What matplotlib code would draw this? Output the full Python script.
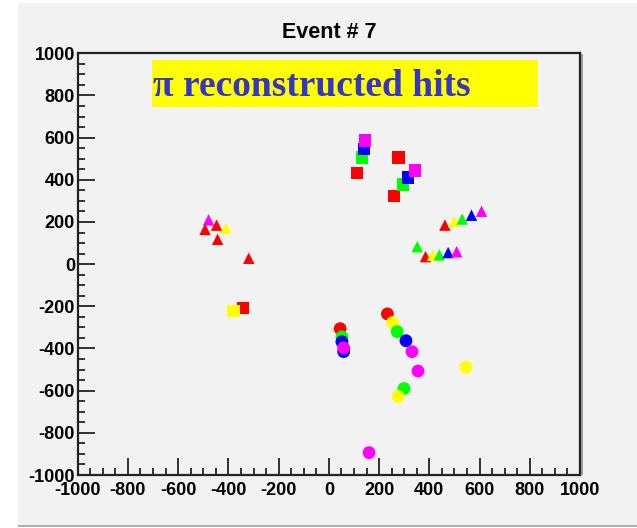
import matplotlib
matplotlib.use("Agg")
import matplotlib.pyplot as plt
from matplotlib.patches import Rectangle
from matplotlib.ticker import MultipleLocator

plt.rcParams["axes.unicode_minus"] = False

# ---- data ----
title = "Event # 7"
label = "\u03c0 reconstructed hits"

sq_x = [113, 132, 140, 145, 278, 259, 296, 315, 342, -341, -379]
sq_y = [431, 505, 545, 586, 505, 324, 377, 410, 445, -209, -222]
sq_c = ["red", "lime", "blue", "magenta", "red", "red", "lime", "blue", "magenta", "red", "yellow"]

tri_x = [-479, -493, -447, -410, -443, -319, 462, 498, 531, 568, 608, 352, 385, 413, 440, 475, 509]
tri_y = [210, 165, 185, 170, 118, 28, 185, 202, 214, 232, 251, 83, 36, 42, 44, 55, 59]
tri_c = ["magenta", "red", "red", "yellow", "red", "red", "red", "yellow", "lime", "blue", "magenta",
         "lime", "red", "yellow", "lime", "blue", "magenta"]

circ_x = [45, 52, 52, 59, 59, 233, 254, 272, 307, 331, 355, 546, 299, 276, 160]
circ_y = [-306, -345, -368, -415, -397, -236, -277, -320, -363, -415, -507, -489, -590, -628, -894]
circ_c = ["red", "lime", "blue", "blue", "magenta", "red", "yellow", "lime", "blue", "magenta", "magenta",
          "yellow", "lime", "yellow", "magenta"]

xticks = list(range(-1000, 1001, 200))
yticks = list(range(-1000, 1001, 200))

# ---- figure ----
W, H = 637, 528
fig = plt.figure(figsize=(W / 100, H / 100), dpi=100, facecolor="white")
gray = "#f2f2f2"
fig.patches.append(Rectangle((18 / W, 3 / H), 1 - 18 / W, 1 - 6 / H, transform=fig.transFigure,
                             facecolor=gray, edgecolor="none", zorder=-10))
fig.patches.append(Rectangle((18 / W, 1 / H), 1 - 18 / W, 2.5 / H, transform=fig.transFigure,
                             facecolor="#b0b0b0", edgecolor="none", zorder=-10))

ax = fig.add_axes([77.7 / W, 1 - 475 / H, (580 - 77.7) / W, (475 - 53.3) / H])
ax.set_zorder(1)
ax.set_facecolor(gray)
ax.set_xlim(-1000, 1000)
ax.set_ylim(-1000, 1000)

ax.scatter(sq_x, sq_y, c=sq_c, marker="s", s=80, linewidths=0, zorder=3)
ax.scatter(tri_x, tri_y, c=tri_c, marker="^", s=68, linewidths=0, zorder=3)
ax.scatter(circ_x, circ_y, c=circ_c, marker="o", s=85, linewidths=0, zorder=3)

ax.set_xticks(xticks)
ax.set_yticks(yticks)
ax.xaxis.set_minor_locator(MultipleLocator(50))
ax.yaxis.set_minor_locator(MultipleLocator(50))
ax.tick_params(axis="both", which="major", direction="in", length=12, width=1.3, color="#222222",
               labelsize=13)
ax.tick_params(axis="x", which="major", pad=5)
ax.tick_params(axis="y", which="major", pad=2)
ax.tick_params(axis="both", which="minor", direction="in", length=5, width=1.3, color="#222222")
ax.tick_params(top=False, right=False, which="both")
for lbl in ax.get_xticklabels() + ax.get_yticklabels():
    lbl.set_fontfamily("Liberation Sans")
    lbl.set_fontweight("bold")
for s in ax.spines.values():
    s.set_linewidth(1.6)
    s.set_color("#222222")

# ROOT-style frame shadow on right
fig.patches.append(Rectangle((581 / W, 1 - 475 / H), 1.5 / W, (475 - 54) / H, transform=fig.transFigure,
                             facecolor="#9a9a9a", edgecolor="none", zorder=5))

fig.text(329 / W, 1 - 32 / H, title, ha="center", va="center", fontsize=15.5,
         fontfamily="Liberation Sans", fontweight="bold")

# yellow label box
fig.patches.append(Rectangle((152 / W, 1 - 107 / H), (538 - 152) / W, (107 - 60) / H,
                             transform=fig.transFigure, facecolor="#ffff00", edgecolor="none", zorder=6))
fig.text(153 / W, 1 - 86 / H, label, ha="left", va="center", fontsize=27,
         fontfamily="Liberation Serif", fontweight="bold", color="#3535c8", zorder=7)

fig.savefig("out.png", dpi=100, facecolor=fig.get_facecolor())
